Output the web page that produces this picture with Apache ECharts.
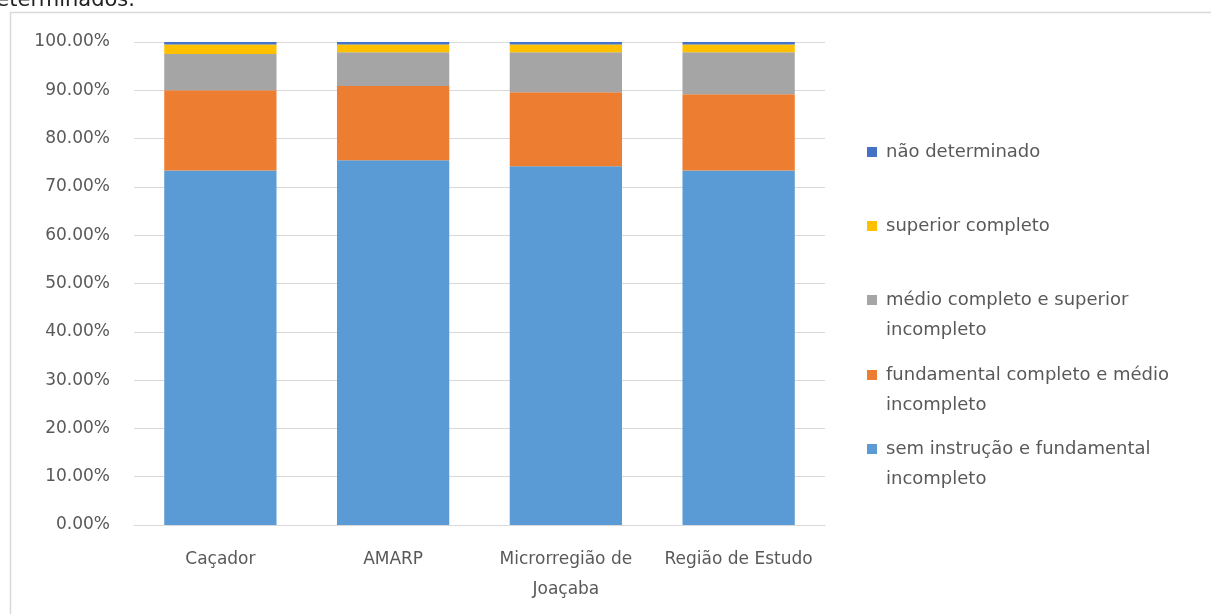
<!DOCTYPE html>
<html>
<head>
<meta charset="utf-8">
<script src="https://cdn.jsdelivr.net/npm/echarts@6/dist/echarts.min.js"></script>
<style>
  html, body { margin: 0; padding: 0; background: #fff; }
  #chart { width: 1211px; height: 614px; }
</style>
</head>
<body>
<div id="chart"></div>
<script>
// Escolaridade da população por recorte territorial (%)
const categories = ['Caçador', 'AMARP', 'Microrregião de\nJoaçaba', 'Região de Estudo'];
const semInstrucao   = [73.4, 75.5, 74.3, 73.4];
const fundamental    = [16.6, 15.4, 15.3, 15.8];
const medio          = [7.5, 7.0, 8.3, 8.7];
const superior       = [2.0, 1.6, 1.6, 1.6];
const naoDeterminado = [0.5, 0.5, 0.5, 0.5];
const yTicks = [0, 10, 20, 30, 40, 50, 60, 70, 80, 90, 100];

const seriesDefs = [
  { name: 'sem instrução e fundamental\nincompleto', data: semInstrucao, color: '#5B9BD5', legendY: 449 },
  { name: 'fundamental completo e médio\nincompleto', data: fundamental, color: '#ED7D31', legendY: 375 },
  { name: 'médio completo e superior\nincompleto', data: medio, color: '#A5A5A5', legendY: 300 },
  { name: 'superior completo', data: superior, color: '#FFC000', legendY: 226 },
  { name: 'não determinado', data: naoDeterminado, color: '#4472C4', legendY: 152 }
];

const FONT = 'DejaVu Sans';
const TXT = '#595959';
const LH = 30;

// One legend block per series; two-line names get a blank first line so
// the icon lines up with the first line of text.
const legends = seriesDefs.map(s => {
  const lines = s.name.split('\n');
  const twoLines = lines.length > 1;
  return {
    data: [s.name],
    left: 867,
    top: s.legendY - (twoLines ? LH * 1.5 : LH / 2),
    padding: 0,
    itemWidth: 10,
    itemHeight: 10,
    itemGap: 0,
    selectedMode: false,
    icon: 'rect',
    formatter: () => (twoLines ? '{t| }\n' : '') + lines.map(l => '{t|' + l + '}').join('\n'),
    textStyle: {
      fontFamily: FONT, fontSize: 18, color: TXT, lineHeight: LH,
      rich: { t: { fontFamily: FONT, fontSize: 18, color: TXT, lineHeight: LH, padding: [0, 0, 0, 4] } }
    }
  };
});

const chart = echarts.init(document.getElementById('chart'), null, { renderer: 'canvas' });
chart.setOption({
  animation: false,
  backgroundColor: '#fff',
  textStyle: { fontFamily: FONT },
  graphic: [
    { type: 'text', left: -17, top: -10, z: 10,
      style: { text: 'determinados.', font: '21px ' + FONT, fill: '#222' } },
    { type: 'rect', shape: { x: 10.5, y: 12.5, width: 1300, height: 700 },
      style: { fill: 'none', stroke: '#d9d9d9', lineWidth: 1.5 }, silent: true }
  ],
  grid: { left: 134, right: 386, top: 42, bottom: 89, containLabel: false },
  legend: legends,
  xAxis: {
    type: 'category',
    data: categories,
    axisLine: { lineStyle: { color: '#d9d9d9', width: 1 } },
    axisTick: { show: false },
    axisLabel: { color: TXT, fontSize: 17, fontFamily: FONT, lineHeight: 30, margin: 20, interval: 0 }
  },
  yAxis: {
    type: 'value',
    min: 0, max: 100, interval: 10,
    axisLine: { show: false },
    axisTick: { show: false },
    splitLine: { lineStyle: { color: '#d9d9d9', width: 1 } },
    axisLabel: {
      color: TXT, fontSize: 17, fontFamily: FONT, margin: 24,
      formatter: v => yTicks.includes(v) ? v.toFixed(2) + '%' : ''
    }
  },
  series: seriesDefs.map(s => ({
    name: s.name,
    type: 'bar',
    stack: 'total',
    data: s.data,
    barWidth: '65%',
    itemStyle: { color: s.color },
    emphasis: { disabled: true }
  }))
});
</script>
</body>
</html>
